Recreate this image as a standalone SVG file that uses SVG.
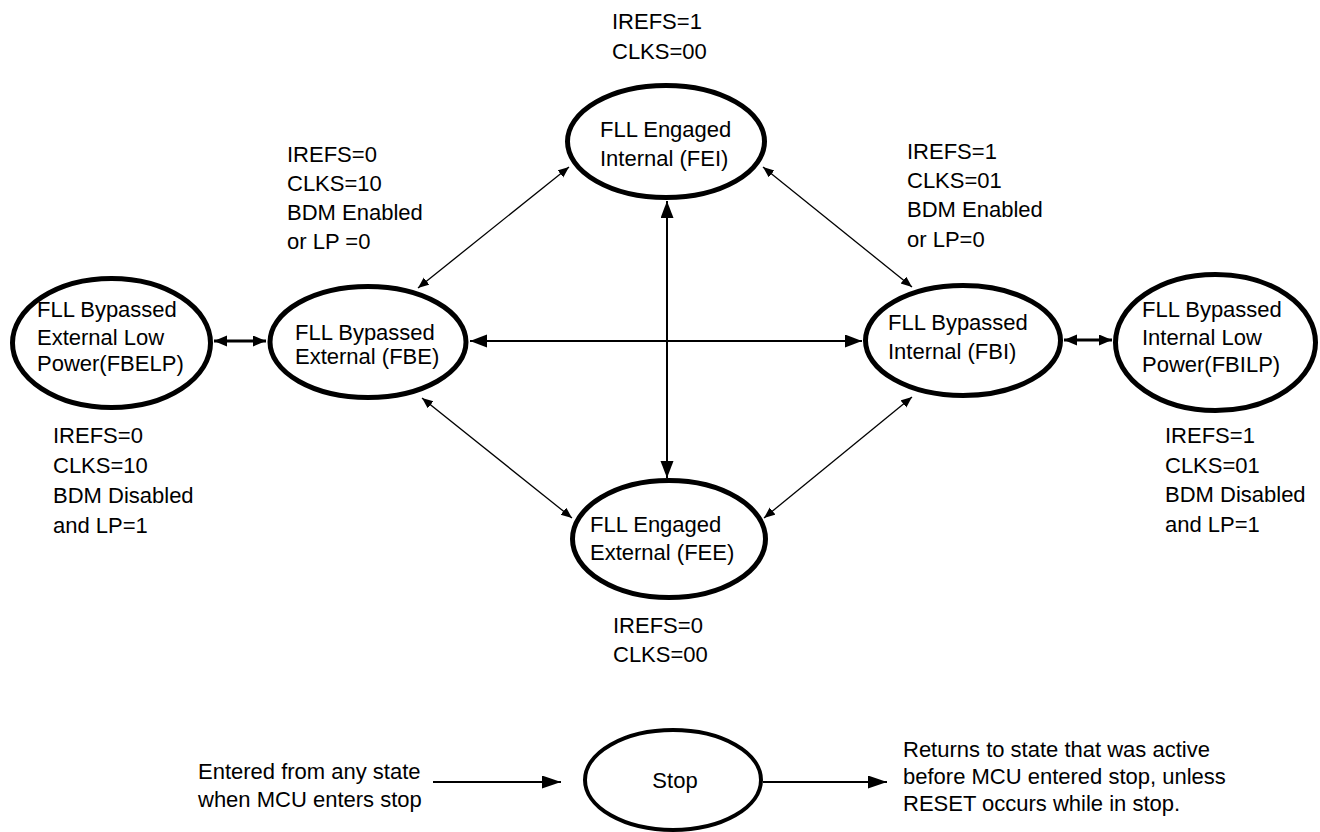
<svg xmlns="http://www.w3.org/2000/svg" width="1320" height="832" viewBox="0 0 1320 832">
<style>
text{font-family:"Liberation Sans",Arial,sans-serif;font-size:22px;fill:#000}
.node{fill:#fff;stroke:#000;stroke-width:5}
.stop{fill:#fff;stroke:#000;stroke-width:4}
.c2{fill:none;stroke:#000;stroke-width:2}
.c3{fill:none;stroke:#000;stroke-width:3}
.c1{fill:none;stroke:#000;stroke-width:1.3}
</style>
<defs>
<marker id="aBig" markerUnits="userSpaceOnUse" markerWidth="18" markerHeight="14" refX="17" refY="6.5" orient="auto-start-reverse"><path d="M0,0 L17,6.5 L0,13 z" fill="#000"/></marker>
<marker id="aMid" markerUnits="userSpaceOnUse" markerWidth="14" markerHeight="12" refX="13" refY="5.5" orient="auto-start-reverse"><path d="M0,0 L13,5.5 L0,11 z" fill="#000"/></marker>
<marker id="aSm" markerUnits="userSpaceOnUse" markerWidth="12" markerHeight="10" refX="11" refY="4.5" orient="auto-start-reverse"><path d="M0,0 L11,4.5 L0,9 z" fill="#000"/></marker>
<marker id="aStop" markerUnits="userSpaceOnUse" markerWidth="20" markerHeight="14" refX="19" refY="6.5" orient="auto"><path d="M0,0 L19,6.5 L0,13 z" fill="#000"/></marker>
</defs>
<rect width="1320" height="832" fill="#fff"/>

<g id="connectors">
<line class="c3" x1="214" y1="341" x2="266" y2="341" marker-start="url(#aMid)" marker-end="url(#aMid)"/>
<line class="c3" x1="1064" y1="340" x2="1112" y2="340" marker-start="url(#aMid)" marker-end="url(#aMid)"/>
<line class="c2" x1="470" y1="341" x2="862" y2="341" marker-start="url(#aBig)" marker-end="url(#aBig)"/>
<line class="c2" x1="667" y1="201" x2="667" y2="478" marker-start="url(#aBig)" marker-end="url(#aBig)"/>
<line class="c1" x1="418" y1="288" x2="569" y2="167" marker-start="url(#aSm)" marker-end="url(#aSm)"/>
<line class="c1" x1="763" y1="167" x2="912" y2="287" marker-start="url(#aSm)" marker-end="url(#aSm)"/>
<line class="c1" x1="422" y1="398" x2="572" y2="518" marker-start="url(#aSm)" marker-end="url(#aSm)"/>
<line class="c1" x1="912" y1="397" x2="764" y2="518" marker-start="url(#aSm)" marker-end="url(#aSm)"/>
<line class="c2" x1="433" y1="782" x2="561" y2="782" marker-end="url(#aStop)"/>
<line class="c2" x1="763" y1="782" x2="887" y2="782" marker-end="url(#aStop)"/>
</g>

<g id="FEI">
<ellipse class="node" cx="666" cy="141.5" rx="98.5" ry="56"/>
<text x="600" y="137">FLL Engaged</text>
<text x="600" y="166">Internal (FEI)</text>
</g>
<g id="FBE">
<ellipse class="node" cx="368" cy="342" rx="98" ry="55.5"/>
<text x="295" y="340">FLL Bypassed</text>
<text x="295" y="364">External (FBE)</text>
</g>
<g id="FBI">
<ellipse class="node" cx="963" cy="340.5" rx="97.5" ry="55"/>
<text x="888" y="330">FLL Bypassed</text>
<text x="888" y="359">Internal (FBI)</text>
</g>
<g id="FEE">
<ellipse class="node" cx="669" cy="539" rx="96.5" ry="58.5"/>
<text x="590" y="532">FLL Engaged</text>
<text x="590" y="560">External (FEE)</text>
</g>
<g id="FBELP">
<ellipse class="node" cx="111.5" cy="343" rx="99" ry="64.5"/>
<text x="37" y="317">FLL Bypassed</text>
<text x="37" y="345">External Low</text>
<text x="37" y="371">Power(FBELP)</text>
</g>
<g id="FBILP">
<ellipse class="node" cx="1215.5" cy="342.5" rx="100" ry="68"/>
<text x="1142" y="317">FLL Bypassed</text>
<text x="1142" y="345">Internal Low</text>
<text x="1142" y="372">Power(FBILP)</text>
</g>
<g id="Stop">
<ellipse class="stop" cx="673" cy="780" rx="88" ry="50"/>
<text x="675" y="788" text-anchor="middle">Stop</text>
</g>

<g id="labels">
<text x="612" y="29">IREFS=1</text>
<text x="612" y="59">CLKS=00</text>
<text x="287" y="162">IREFS=0</text>
<text x="287" y="191">CLKS=10</text>
<text x="287" y="220">BDM Enabled</text>
<text x="287" y="249">or LP =0</text>
<text x="907" y="159">IREFS=1</text>
<text x="907" y="188">CLKS=01</text>
<text x="907" y="217">BDM Enabled</text>
<text x="907" y="247">or LP=0</text>
<text x="53" y="443">IREFS=0</text>
<text x="53" y="473">CLKS=10</text>
<text x="53" y="503">BDM Disabled</text>
<text x="53" y="533">and LP=1</text>
<text x="1165" y="443">IREFS=1</text>
<text x="1165" y="473">CLKS=01</text>
<text x="1165" y="502">BDM Disabled</text>
<text x="1165" y="532">and LP=1</text>
<text x="613" y="633">IREFS=0</text>
<text x="613" y="662">CLKS=00</text>
<text x="198" y="779">Entered from any state</text>
<text x="198" y="807">when MCU enters stop</text>
<text x="903" y="757">Returns to state that was active</text>
<text x="903" y="784">before MCU entered stop, unless</text>
<text x="903" y="811">RESET occurs while in stop.</text>
</g>
</svg>
